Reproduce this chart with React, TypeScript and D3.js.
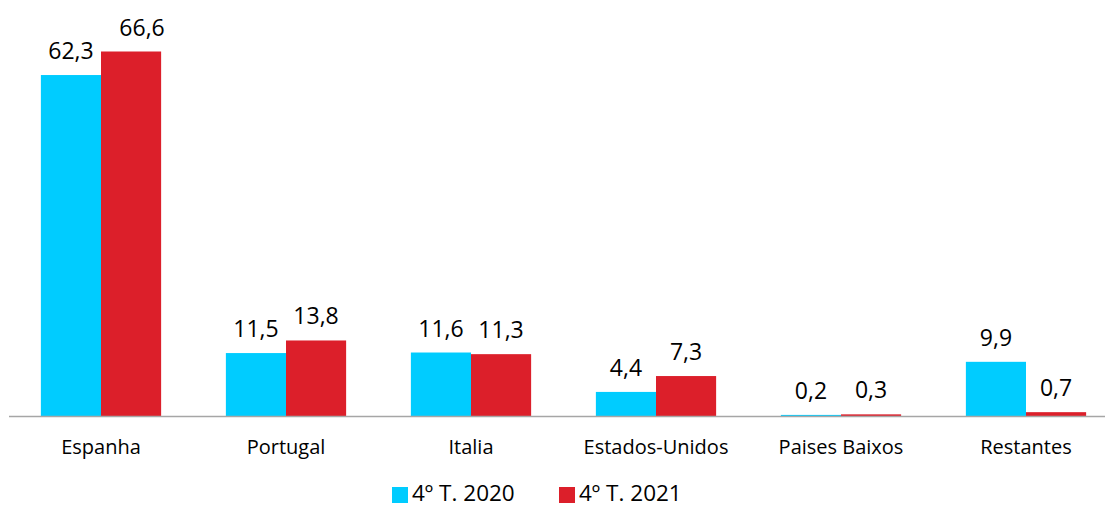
import React from "react"
import { scaleBand, scaleLinear } from "d3"

// dados do gráfico
const categorias = ["Espanha", "Portugal", "Italia", "Estados-Unidos", "Paises Baixos", "Restantes"]
const series = ["4º T. 2020", "4º T. 2021"]
const valores2020 = [62.3, 11.5, 11.6, 4.4, 0.2, 9.9]
const valores2021 = [66.6, 13.8, 11.3, 7.3, 0.3, 0.7]
const cores = ["#00CCFF", "#DC1F2A"]

const fmt = (v: number) => v.toFixed(1).replace(".", ",")

export default function App() {
  const width = 1105
  const height = 508
  const base = 416

  const x = scaleBand<string>()
    .domain(categorias)
    .range([8.5, 8.5 + 185 * categorias.length])
    .paddingInner(0.35)
    .paddingOuter(0.175)

  const sub = scaleBand<string>()
    .domain(series)
    .range([0, x.bandwidth()])

  const y = scaleLinear().domain([0, 66.6]).range([base, 51.5])

  const dados = [valores2020, valores2021]
  const font = "'Open Sans', sans-serif"

  return (
    <svg
      width={width}
      height={height}
      style={{ position: "absolute", left: 0, top: 0, background: "#fff" }}
      fontFamily={font}
    >
      {categorias.map((c, i) => (
        <g key={c} transform={"translate(" + x(c) + ",0)"}>
          {series.map((s, j) => {
            const v = dados[j][i]
            const bx = sub(s) as number
            // o rótulo mais alto fica um pouco deslocado para a direita
            const dx = i === 0 && j === 1 ? 11 : 0
            return (
              <g key={s}>
                <rect
                  x={bx}
                  y={y(v)}
                  width={sub.bandwidth()}
                  height={base - y(v)}
                  fill={cores[j]}
                />
                <text
                  x={bx + sub.bandwidth() / 2 + dx}
                  y={y(v) - 16}
                  textAnchor="middle"
                  fontSize={23}
                  fill="#000"
                >
                  {fmt(v)}
                </text>
              </g>
            )
          })}
          <text
            x={x.bandwidth() / 2}
            y={454}
            textAnchor="middle"
            fontSize={20}
            fill="#000"
          >
            {c}
          </text>
        </g>
      ))}
      <line x1={9} x2={width} y1={base + 0.5} y2={base + 0.5} stroke="#A6A6A6" strokeWidth={1.5} />

      {/* legenda */}
      {series.map((s, j) => {
        const lx = j === 0 ? 392 : 559
        return (
          <g key={s}>
            <rect x={lx} y={487} width={16} height={16} fill={cores[j]} />
            <text x={lx + 20} y={501} fontSize={22.5} fill="#000">
              {s}
            </text>
          </g>
        )
      })}
    </svg>
  )
}
